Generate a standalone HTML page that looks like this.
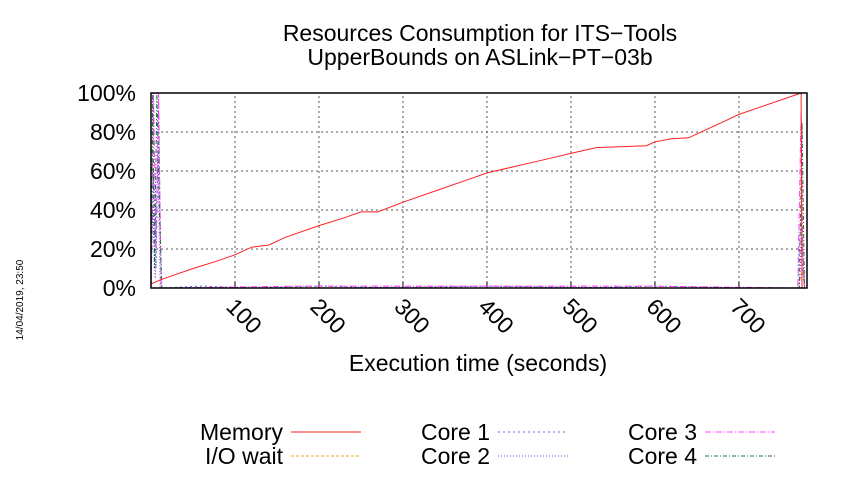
<!DOCTYPE html>
<html><head><meta charset="utf-8"><style>
body{margin:0;background:#fff;width:850px;height:475px;overflow:hidden}
text{font-family:"Liberation Sans",sans-serif}
</style></head><body>
<svg id="c" width="850" height="475" xmlns="http://www.w3.org/2000/svg"></svg>
<script>
const xTicks=[100,200,300,400,500,600,700];
const yTicks=[0,20,40,60,80,100];
const memT=[0,10,50,80,100,120,140,160,200,230,250,270,300,340,380,400,450,480,500,530,590,600,620,640,680,700,774,775];
const memV=[2,4,10,14,17,21,22,26,32,36,39,39,44,50,56,59,64,67,69,72,73,75,76.5,77,85,89,100,0];
const c1T=[0,3,6,9,12,60,120,200,300,400,500,600,700,770,774,776,778];
const c1V=[0,60,10,90,0,1,0,1,0,1,0,1,0,0,40,10,0];
const c2T=[0,2,5,8,11,200,400,600,772,775,778];
const c2V=[0,40,5,70,0,0,1,0,0,30,0];
const c3T=[0,3,6,9,12,180,400,590,770,774,776,778];
const c3V=[0,100,20,100,0,1,1,1,0,90,20,0];
const c4T=[0,2,4,7,10,13,300,772,775,778];
const c4V=[0,100,10,100,40,0,0,0,85,0];
const ioT=[0,5,10,770,776,778];
const ioV=[0,0,0,0,10,0];
const X0=151,X1=807,XMAX=781,Y0=288,Y1=93;
const sx=v=>X0+(X1-X0)*v/XMAX, sy=v=>Y0-(Y0-Y1)*v/100;
const svg=document.getElementById('c');const NS='http://www.w3.org/2000/svg';
function el(t,a,txt){const e=document.createElementNS(NS,t);for(const k in a)e.setAttribute(k,a[k]);if(txt!=null)e.textContent=txt;svg.appendChild(e);return e;}
let e;
for(const t of yTicks){
 if(t>0&&t<100){e=el('line',{x1:X0,x2:X1,y1:sy(t),y2:sy(t),stroke:'#555','stroke-dasharray':'2,3','stroke-width':1});
 }
 e=el('text',{x:136,y:sy(t)+8,'text-anchor':'end','font-size':23},t+'%');
 
}
for(const t of xTicks){
 e=el('line',{x1:sx(t),x2:sx(t),y1:Y0,y2:Y1,stroke:'#555','stroke-dasharray':'2,3','stroke-width':1});
 
 e=el('line',{x1:sx(t),x2:sx(t),y1:Y0,y2:Y0-6,stroke:'#000','stroke-width':1});
 
 e=el('text',{x:0,y:0,'font-size':23,transform:`translate(${sx(t)-10},${Y0+20}) rotate(45)`},t);
 
}
function series(T,V,col,dash,name){
 const pts=T.map((t,i)=>sx(t).toFixed(1)+','+sy(V[i]).toFixed(1)).join(' ');
 e=el('polyline',{points:pts,fill:'none',stroke:col,'stroke-width':1,'stroke-dasharray':dash});
 
}
series(ioT,ioV,'#e8a030','3,2','io-wait-line');
series(c1T,c1V,'#5070e0','2,3','core1-line');
series(c2T,c2V,'#8040e0','1,2','core2-line');
series(c3T,c3V,'#ff40ff','6,2,1,2','core3-line');
series(c4T,c4V,'#207040','4,2,1,2','core4-line');
series(memT,memV,'#ff2020','','memory-line');
e=el('rect',{x:X0,y:Y1,width:X1-X0,height:Y0-Y1,fill:'none',stroke:'#000','stroke-width':1.5});

e=el('text',{x:480,y:41,'text-anchor':'middle','font-size':23},'Resources Consumption for ITS−Tools');

e=el('text',{x:480,y:65,'text-anchor':'middle','font-size':23},'UpperBounds on ASLink−PT−03b');

e=el('text',{x:478,y:371,'text-anchor':'middle','font-size':23},'Execution time (seconds)');

e=el('text',{x:0,y:0,'text-anchor':'middle','font-size':10,transform:'translate(23,300) rotate(-90)'},'14/04/2019, 23:50');

const legend=[['Memory',283,432,'#ff2020',''],['I/O wait',283,456,'#e8a030','3,2'],['Core 1',490,432,'#5070e0','2,3'],['Core 2',490,456,'#8040e0','1,2'],['Core 3',697,432,'#ff40ff','6,2,1,2'],['Core 4',697,456,'#207040','4,2,1,2']];
for(const [n,x,y,col,d] of legend){
 e=el('text',{x:x,y:y+8,'text-anchor':'end','font-size':23},n);
 
 e=el('line',{x1:x+8,x2:x+78,y1:y,y2:y,stroke:col,'stroke-width':1,'stroke-dasharray':d});
 
}
</script>
</body></html>
